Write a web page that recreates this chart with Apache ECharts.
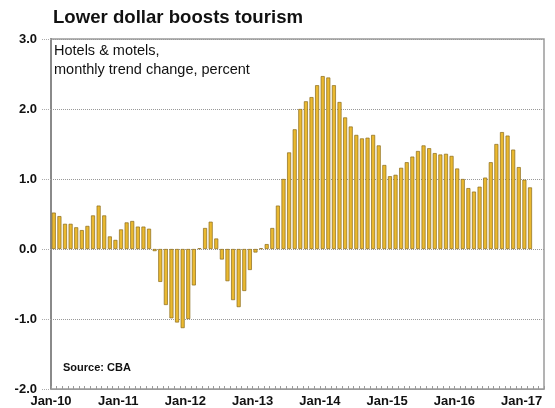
<!DOCTYPE html>
<html>
<head>
<meta charset="utf-8">
<script src="https://cdn.jsdelivr.net/npm/echarts@6/dist/echarts.min.js"></script>
<style>html,body{margin:0;padding:0;background:#fff;}#c{width:555px;height:408px;}</style>
</head>
<body>
<div id="c"></div>
<script>
// Month names and years used to build the monthly categories (Jan-10 .. Apr-17)
const monthNames = ['Jan','Feb','Mar','Apr','May','Jun','Jul','Aug','Sep','Oct','Nov','Dec'];
const years = ['10','11','12','13','14','15','16','17'];
const categories = [];
years.forEach(function (y) { monthNames.forEach(function (m) { categories.push(m + '-' + y); }); });
categories.length = 88;

// Hotels & motels, monthly trend change, percent
const values = [
  0.52, 0.47, 0.36, 0.36, 0.31, 0.27, 0.33, 0.48, 0.62, 0.48, 0.18, 0.13,
  0.28, 0.38, 0.40, 0.32, 0.32, 0.29, -0.03, -0.47, -0.80, -0.99, -1.05, -1.13,
  -1.00, -0.52, 0.01, 0.30, 0.39, 0.15, -0.15, -0.46, -0.73, -0.83, -0.60, -0.30,
  -0.05, 0.01, 0.07, 0.30, 0.62, 1.00, 1.38, 1.71, 2.00, 2.11, 2.17, 2.34,
  2.47, 2.45, 2.34, 2.10, 1.88, 1.75, 1.63, 1.58, 1.59, 1.63, 1.48, 1.20,
  1.04, 1.06, 1.16, 1.24, 1.32, 1.40, 1.48, 1.44, 1.37, 1.35, 1.36, 1.33,
  1.15, 1.00, 0.87, 0.82, 0.89, 1.02, 1.24, 1.50, 1.67, 1.62, 1.42, 1.17,
  0.99, 0.88
];

const xTickLabels = ['Jan-10','Jan-11','Jan-12','Jan-13','Jan-14','Jan-15','Jan-16','Jan-17'];
const yTickLabels = ['-2.0','-1.0','0.0','1.0','2.0','3.0'];

const chart = echarts.init(document.getElementById('c'), null, {renderer: 'canvas'});
const FONT = '"Liberation Sans", Arial, sans-serif';
chart.setOption({
  animation: false,
  backgroundColor: '#ffffff',
  title: [
    {text: 'Lower dollar boosts tourism', left: 53, top: 8, padding: 0,
     textStyle: {fontFamily: FONT, fontSize: 18.6, fontWeight: 'bold', color: '#111'}},
    {text: 'Hotels & motels,\nmonthly trend change, percent', left: 54, top: 41, padding: 0,
     textStyle: {fontFamily: FONT, fontSize: 14.5, fontWeight: 'normal', color: '#111', lineHeight: 19}},
    {text: 'Source: CBA', left: 63, top: 362, padding: 0,
     textStyle: {fontFamily: FONT, fontSize: 11, fontWeight: 'bold', color: '#111'}}
  ],
  grid: {left: 51, right: 11, top: 39, bottom: 19, show: true, borderColor: '#9a9a9a', borderWidth: 1.5, containLabel: false},
  xAxis: [
    {type: 'category', data: categories, boundaryGap: true,
     axisLine: {show: true, onZero: false, lineStyle: {color: '#9a9a9a', width: 1}},
     axisTick: {show: true, inside: true, interval: 0, length: 3, lineStyle: {color: '#9a9a9a', width: 1}},
     axisLabel: {show: false}, splitLine: {show: false}},
    {type: 'value', position: 'bottom', min: 0, max: 88, interval: 12,
     axisLine: {show: false}, axisTick: {show: false}, splitLine: {show: false},
     axisLabel: {show: true, margin: 6, showMaxLabel: false, fontFamily: FONT, fontSize: 13, fontWeight: 'bold', color: '#111',
       formatter: function (v) { const i = Math.round(v / 12); return (v % 12 === 0 && xTickLabels[i]) ? xTickLabels[i] : ''; }}}
  ],
  yAxis: {type: 'value', min: -2, max: 3, interval: 1,
    axisLine: {show: true, lineStyle: {color: '#8a8a8a', width: 2}},
    axisTick: {show: true, length: 9, lineStyle: {color: '#aaaaaa', type: 'dotted', width: 1}},
    splitLine: {show: true, lineStyle: {color: '#999999', type: 'dotted', width: 1}},
    axisLabel: {margin: 14, fontFamily: FONT, fontSize: 13, fontWeight: 'bold', color: '#111',
      formatter: function (v) { return yTickLabels[Math.round(v + 2)]; }}},
  series: [{
    type: 'bar', xAxisIndex: 0, yAxisIndex: 0, data: values, barWidth: 4,
    itemStyle: {color: '#EAB930', borderColor: '#8a6a1a', borderWidth: 0.7}
  }]
});
</script>
</body>
</html>
